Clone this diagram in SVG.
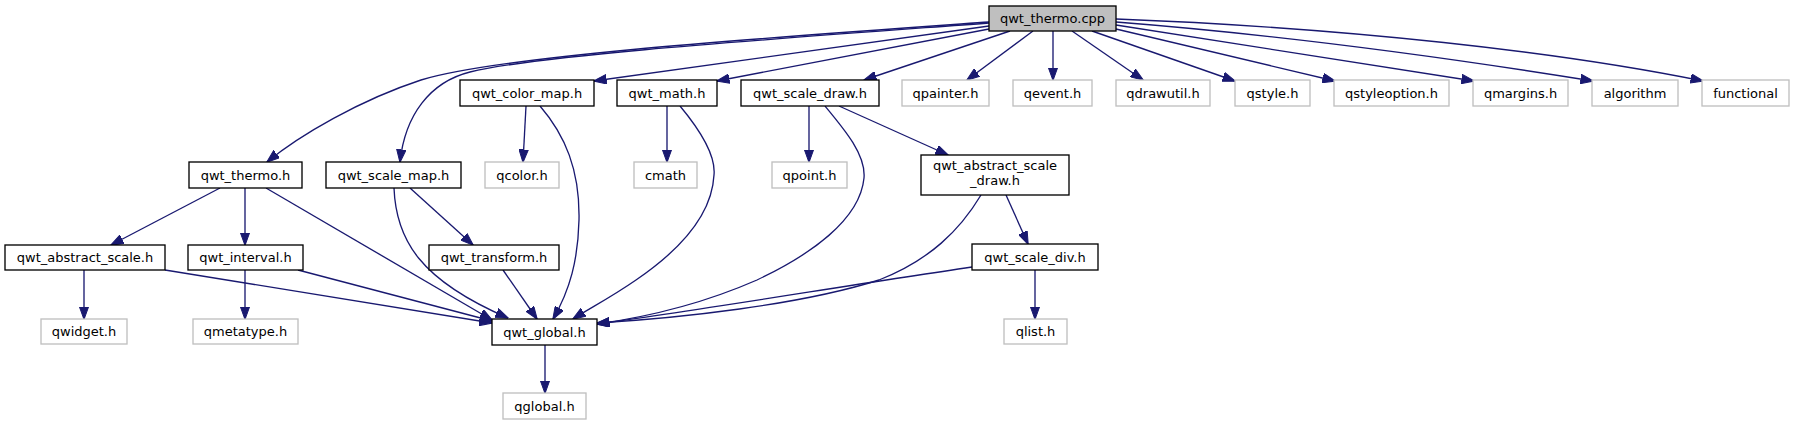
<svg xmlns="http://www.w3.org/2000/svg" width="1795" height="425" viewBox="0 0 1795 425">
<style>
.n rect{fill:#ffffff;stroke:#000000;stroke-width:1.33}
.x rect{fill:#ffffff;stroke:#bfbfbf;stroke-width:1.33}
.r rect{fill:#bfbfbf;stroke:#000000;stroke-width:1.33}
text{font-family:"DejaVu Sans",sans-serif;font-size:13px;fill:#000000;text-anchor:middle}
#edges path{fill:none;stroke:#191970;stroke-width:1.33;marker-end:url(#ah)}
</style>
<defs>
<marker id="ah" markerUnits="userSpaceOnUse" viewBox="0 0 13 10" markerWidth="13" markerHeight="10" refX="12.5" refY="5" orient="auto">
<path d="M0,0.3 L13,5 L0,9.7 z" fill="#191970" stroke="#191970" stroke-width="1"/>
</marker>
</defs>
<rect width="1795" height="425" fill="#ffffff"/>
<g id="edges">
<path d="M989,22 C750,39 500,56 421,80 C360,100 300,135 267,162"/>
<path d="M989,23 C760,40 540,55 470,72 C430,82 405,115 400,162"/>
<path d="M989,26 L594,81"/>
<path d="M989,29 L717,81"/>
<path d="M1010,31 L864,80"/>
<path d="M1033,31 L967,80"/>
<path d="M1053,31 L1053,80"/>
<path d="M1072,31 L1143,80"/>
<path d="M1092,31 L1235,81"/>
<path d="M1116,29 L1335,81"/>
<path d="M1116,25 L1474,81"/>
<path d="M1116,22 C1270,34 1450,58 1593,81"/>
<path d="M1116,19 C1350,28 1560,52 1703,81"/>
<path d="M220,188 L111,245"/>
<path d="M245,188 L245,245"/>
<path d="M266,188 L492,320"/>
<path d="M165,270 L492,323"/>
<path d="M298,270 L492,321"/>
<path d="M84,270 L84,319"/>
<path d="M245,270 L245,319"/>
<path d="M394,188 C396,240 420,280 508,318"/>
<path d="M410,188 L473,245"/>
<path d="M503,270 L537,319"/>
<path d="M526,106 L523,162"/>
<path d="M540,106 C565,135 580,170 579,220 C578,260 570,290 553,319"/>
<path d="M667,106 L667,162"/>
<path d="M680,106 C700,130 716,155 714,175 C712,215 680,250 636,280 C610,298 590,308 573,319"/>
<path d="M809,106 L809,162"/>
<path d="M825,106 C845,130 866,155 864,178 C860,220 810,255 757,280 C700,305 640,318 597,324"/>
<path d="M839,106 L948,155"/>
<path d="M1006,195 L1028,244"/>
<path d="M981,195 C960,230 930,260 879,280 C800,305 680,318 597,323"/>
<path d="M972,267 C850,285 700,310 597,324"/>
<path d="M1035,270 L1035,319"/>
<path d="M545,345 L545,393"/>
</g>
<g id="qwt_thermo_cpp" class="r"><rect x="989" y="6" width="127" height="25"/><text x="1052.5" y="23">qwt_thermo.cpp</text></g>
<g id="qwt_color_map_h" class="n"><rect x="460" y="80" width="134" height="26"/><text x="527" y="97.5">qwt_color_map.h</text></g>
<g id="qwt_math_h" class="n"><rect x="617" y="80" width="100" height="26"/><text x="667" y="97.5">qwt_math.h</text></g>
<g id="qwt_scale_draw_h" class="n"><rect x="741" y="80" width="138" height="26"/><text x="810" y="97.5">qwt_scale_draw.h</text></g>
<g id="qpainter_h" class="x"><rect x="902" y="80" width="87" height="26"/><text x="945.5" y="97.5">qpainter.h</text></g>
<g id="qevent_h" class="x"><rect x="1013" y="80" width="79" height="26"/><text x="1052.5" y="97.5">qevent.h</text></g>
<g id="qdrawutil_h" class="x"><rect x="1116" y="80" width="94" height="26"/><text x="1163" y="97.5">qdrawutil.h</text></g>
<g id="qstyle_h" class="x"><rect x="1235" y="80" width="75" height="26"/><text x="1272.5" y="97.5">qstyle.h</text></g>
<g id="qstyleoption_h" class="x"><rect x="1334" y="80" width="115" height="26"/><text x="1391.5" y="97.5">qstyleoption.h</text></g>
<g id="qmargins_h" class="x"><rect x="1473" y="80" width="95" height="26"/><text x="1520.5" y="97.5">qmargins.h</text></g>
<g id="algorithm" class="x"><rect x="1592" y="80" width="86" height="26"/><text x="1635" y="97.5">algorithm</text></g>
<g id="functional" class="x"><rect x="1702" y="80" width="87" height="26"/><text x="1745.5" y="97.5">functional</text></g>
<g id="qwt_thermo_h" class="n"><rect x="189" y="162" width="113" height="26"/><text x="245.5" y="179.5">qwt_thermo.h</text></g>
<g id="qwt_scale_map_h" class="n"><rect x="326" y="162" width="135" height="26"/><text x="393.5" y="179.5">qwt_scale_map.h</text></g>
<g id="qcolor_h" class="x"><rect x="485" y="162" width="74" height="26"/><text x="522" y="179.5">qcolor.h</text></g>
<g id="cmath" class="x"><rect x="634" y="162" width="63" height="26"/><text x="665.5" y="179.5">cmath</text></g>
<g id="qpoint_h" class="x"><rect x="772" y="162" width="75" height="26"/><text x="809.5" y="179.5">qpoint.h</text></g>
<g id="qwt_abstract_scale_draw_h" class="n"><rect x="921" y="155" width="148" height="40"/><text x="995" y="170">qwt_abstract_scale</text><text x="995" y="185">_draw.h</text></g>
<g id="qwt_abstract_scale_h" class="n"><rect x="5" y="245" width="160" height="25"/><text x="85" y="262">qwt_abstract_scale.h</text></g>
<g id="qwt_interval_h" class="n"><rect x="188" y="245" width="115" height="25"/><text x="245.5" y="262">qwt_interval.h</text></g>
<g id="qwt_transform_h" class="n"><rect x="429" y="245" width="130" height="25"/><text x="494" y="262">qwt_transform.h</text></g>
<g id="qwt_scale_div_h" class="n"><rect x="972" y="244" width="126" height="26"/><text x="1035" y="261.5">qwt_scale_div.h</text></g>
<g id="qwidget_h" class="x"><rect x="41" y="319" width="86" height="25"/><text x="84" y="336">qwidget.h</text></g>
<g id="qmetatype_h" class="x"><rect x="193" y="319" width="105" height="25"/><text x="245.5" y="336">qmetatype.h</text></g>
<g id="qwt_global_h" class="n"><rect x="492" y="319" width="105" height="26"/><text x="544.5" y="336.5">qwt_global.h</text></g>
<g id="qlist_h" class="x"><rect x="1004" y="319" width="63" height="25"/><text x="1035.5" y="336">qlist.h</text></g>
<g id="qglobal_h" class="x"><rect x="503" y="393" width="83" height="26"/><text x="544.5" y="410.5">qglobal.h</text></g>
</svg>
